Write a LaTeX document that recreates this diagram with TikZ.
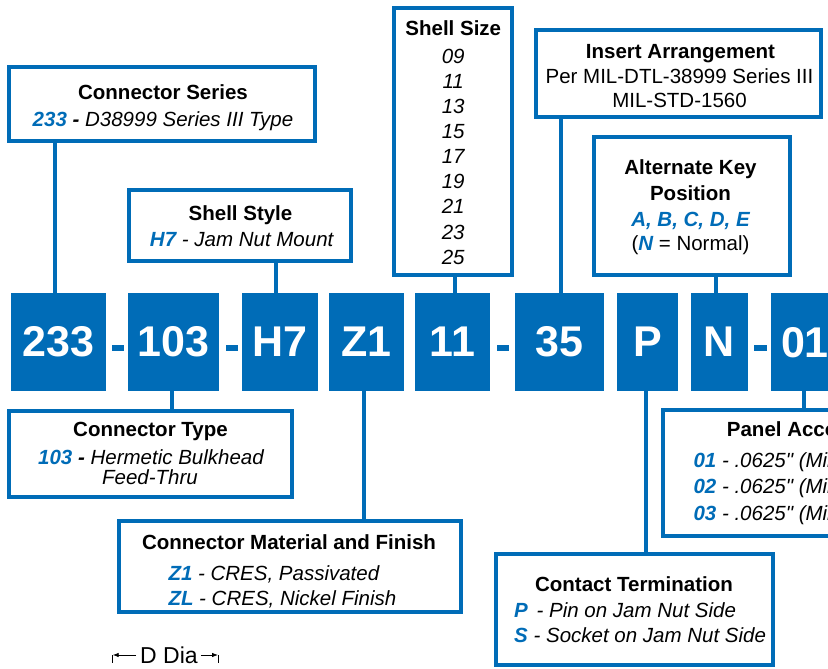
\documentclass[tikz,border=0pt]{standalone}
\usepackage{fontspec}
\setmainfont{Liberation Sans}
\usepackage[dvipsnames]{xcolor}
\usetikzlibrary{arrows.meta}
\definecolor{partblue}{RGB}{0,108,183}
\newcommand{\pcode}[1]{\textcolor{partblue}{\bfseries\itshape #1}}

\begin{document}
\begin{tikzpicture}[line join=miter,x=1pt,y=-1pt,
  codebox/.style={fill=partblue,text=white,inner sep=0,minimum height=97.7,font=\fontsize{43}{50}\selectfont\bfseries},
  dashbox/.style={fill=partblue,inner sep=0,minimum width=12.3,minimum height=5.7},
  infobox/.style={draw=partblue,fill=white,line width=4,inner sep=0},
  link/.style={draw=partblue,line width=4},
  head/.style={anchor=base,inner sep=0,font=\fontsize{20.5}{25}\selectfont\bfseries},
  item/.style={anchor=base,inner sep=0,font=\fontsize{20.5}{25}\selectfont\itshape},
  plain/.style={anchor=base,inner sep=0,font=\fontsize{20.5}{25}\selectfont},
  dimarrow/.style={line width=0.8,-{Latex[length=6,width=4.5]}}]
\useasboundingbox (0,0) rectangle (828,669);
\clip (0,0) rectangle (828,669);

% part number boxes
\node[codebox,minimum width=95.3] (c233) at (58.3,342.2) {233};
\node[codebox,minimum width=90.7] (c103) at (173.7,342.2) {103};
\node[codebox,minimum width=76] (cH7) at (280.3,342.2) {H7};
\node[codebox,minimum width=74.7] (cZ1) at (366.7,342.2) {Z1};
\node[codebox,minimum width=75] (c11) at (452.5,342.2) {11};
\node[codebox,minimum width=89] (c35) at (559.5,342.2) {35};
\node[codebox,minimum width=60.4] (cP) at (647.5,342.2) {P};
\node[codebox,minimum width=57.6] (cN) at (719.5,342.2) {N};
\node[codebox,minimum width=68] (c01) at (805,342.2) {01};
\node[dashbox] (d1) at (117.8,347.8) {};
\node[dashbox] (d2) at (231.9,347.8) {};
\node[dashbox] (d3) at (503.1,347.8) {};
\node[dashbox] (d4) at (760.4,347.8) {};

% description boxes
\node[infobox,minimum width=305.4,minimum height=74] (series) at (162,104) {};
\node[infobox,minimum width=222,minimum height=70.4] (style) at (240.3,225.5) {};
\node[infobox,minimum width=117.7,minimum height=267] (size) at (453.2,141.5) {};
\node[infobox,minimum width=285,minimum height=87] (insert) at (678.5,73.8) {};
\node[infobox,minimum width=196,minimum height=137.7] (altkey) at (691.7,205.8) {};
\node[infobox,minimum width=282.7,minimum height=85.7] (type) at (150.7,454.2) {};
\node[infobox,minimum width=341.4,minimum height=90.7] (material) at (290,566.7) {};
\node[infobox,minimum width=277,minimum height=111.6] (contact) at (634.5,609.5) {};
\node[infobox,minimum width=297,minimum height=125.4] (panel) at (811.5,473) {};

% connectors
\draw[link] ([xshift=-3.3]c233.north) -- ([xshift=-3.3]c233.north |- series.south);
\draw[link] ([xshift=-1.7]c103.south) -- ([xshift=-1.7]c103.south |- type.north);
\draw[link] ([xshift=-4.3]cH7.north) -- ([xshift=-4.3]cH7.north |- style.south);
\draw[link] ([xshift=-2.7]cZ1.south) -- ([xshift=-2.7]cZ1.south |- material.north);
\draw[link] ([xshift=2.5]c11.north) -- ([xshift=2.5]c11.north |- size.south);
\draw[link] ([xshift=1.5]c35.north) -- ([xshift=1.5]c35.north |- insert.south);
\draw[link] ([xshift=-1.5]cP.south) -- ([xshift=-1.5]cP.south |- contact.north);
\draw[link] ([xshift=-3.5]cN.north) -- ([xshift=-3.5]cN.north |- altkey.south);
\draw[link] ([xshift=-1]c01.south) -- ([xshift=-1]c01.south |- panel.north);

% texts
\node[head] (seriesHd) at (163,99.5) {Connector Series};
\node[item] (seriesLn) at (163,126.7) {\pcode{233} \textbf{-} D38999 Series III Type};

\node[head] (styleHd) at (240.5,220.7) {Shell Style};
\node[item] (styleLn) at (241.7,246.7) {\pcode{H7} - Jam Nut Mount};

\node[head] (sizeHd) at (453.3,36) {Shell Size};
\foreach \s [count=\k from 0] in {09,11,13,15,17,19,21,23,25}
  \node[item] (size\s) at (453.2,{63.3+25.1*\k}) {\s};

\node[head] (insertHd) at (680.5,59) {Insert Arrangement};
\node[plain] (insertA) at (679.5,84) {Per MIL-DTL-38999 Series III};
\node[plain] (insertB) at (679.5,107.3) {MIL-STD-1560};

\node[head] (altkeyA) at (690.5,174.3) {Alternate Key};
\node[head] (altkeyB) at (690.5,200.7) {Position};
\node[plain] (altkeyC) at (690.5,226) {\pcode{A, B, C, D, E}};
\node[plain] (altkeyD) at (690.5,250.7) {(\pcode{N} = Normal)};

\node[head] (typeHd) at (150.5,436) {Connector Type};
\node[item] (typeA) at (151,464.3) {\pcode{103} \textbf{-} Hermetic Bulkhead};
\node[item] (typeB) at (150,484) {Feed-Thru};

\node[head] (materialHd) at (289,549.3) {Connector Material and Finish};
\node[item,anchor=base west] (materialA) at (168.3,580) {\pcode{Z1} - CRES, Passivated};
\node[item,anchor=base west] (materialB) at (168.3,605.7) {\pcode{ZL} - CRES, Nickel Finish};

\node[head] (contactHd) at (634,591.7) {Contact Termination};
\node[item,anchor=base west] (contactA) at (514,617.3) {\pcode{P}\hspace{3pt} - Pin on Jam Nut Side};
\node[item,anchor=base west] (contactB) at (514,642.7) {\pcode{S} - Socket on Jam Nut Side};

\node[head,anchor=base west] (panelHd) at (726.7,436.7) {Panel Acco};
\foreach \n [count=\k from 0] in {01,02,03}
  \node[item,anchor=base west] (panel\n) at (693.3,{467.7+26.2*\k}) {\pcode{\n} - .0625\textquotedbl{} (Min};

% diameter note
\node[anchor=base west,inner sep=0,font=\fontsize{23}{27}\selectfont] (ddia) at (140,663.3) {D Dia};
\coordinate (dimL) at (112.7,655);
\coordinate (dimR) at (218,655);
\draw[line width=0.8] (dimL) -- ++(0,8.3);
\draw[line width=0.8] (dimR) -- ++(0,8.3);
\draw[dimarrow] ([xshift=-4]ddia.west |- dimL) -- (dimL);
\draw[dimarrow] ([xshift=3]ddia.east |- dimR) -- (dimR);
\end{tikzpicture}
\end{document}
